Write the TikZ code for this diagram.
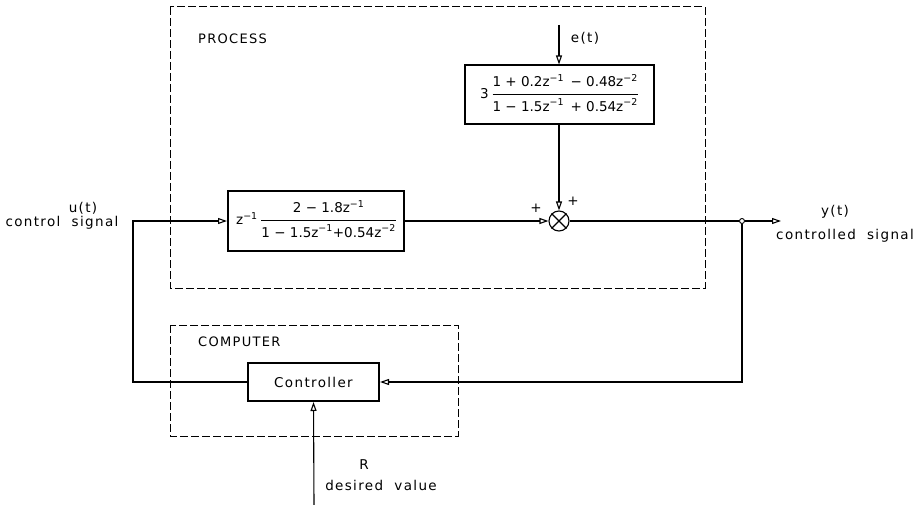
\documentclass[tikz,border=0pt]{standalone}
\usepackage{fontspec}
\setmainfont{DejaVu Sans}[LetterSpace=10]
\newfontfamily\boxfont{DejaVu Sans}[LetterSpace=0]
\usetikzlibrary{arrows.meta}
\newcommand\fr[2]{\setlength\arrayrulewidth{0.8pt}\begin{tabular}{@{}c@{}}#1\\[3pt]\hline\noalign{\vskip4pt}#2\end{tabular}}
\newcommand\zz[1]{z\textsuperscript{#1}}
\tikzset{
  blk/.style={draw, line width=2pt, inner sep=0pt},
  frm/.style={font=\boxfont\fontsize{13.5}{16}\selectfont},
  region/.style={draw, line width=1pt, dash pattern=on 8pt off 3pt},
  sig/.style={line width=1.1pt},
  arr/.style={sig, -{Triangle[open,length=9pt,width=6pt]}},
  lbl/.style={inner sep=0pt, font=\fontsize{13.5}{16}\selectfont},
  small/.style={inner sep=0pt, font=\fontsize{13}{15}\selectfont}
}
\begin{document}
\begin{tikzpicture}[x=1pt,y=-1pt]
\useasboundingbox (0,0) rectangle (915,505);
% regions
\draw[region] (170,7) rectangle (705,288);
\draw[region] (170,325) rectangle (458,436);
\node[small, anchor=west] (plabel) at (198,39) {PROCESS};
\node[small, anchor=west] (clabel) at (198,342) {COMPUTER};
% blocks
\node[blk, frm, minimum width=176pt, minimum height=60pt] (G1) at (316,221)
  {\zz{−1}\;\fr{2 − 1.8\zz{−1}}{1 − 1.5\zz{−1}+0.54\zz{−2}}};
\node[blk, frm, minimum width=189pt, minimum height=59pt] (G2) at (559,95)
  {3\;\fr{1 + 0.2\zz{−1} \,− 0.48\zz{−2}}{1 − 1.5\zz{−1} \,+ 0.54\zz{−2}}};
\node[blk, lbl, minimum width=131pt, minimum height=38pt] (ctrl) at (313.5,382) {Controller};
\node[circle, draw, line width=1.1pt, minimum size=20pt, inner sep=0pt] (sum) at (559,221) {};
\draw[line width=1.1pt] (sum.north west) -- (sum.south east) (sum.north east) -- (sum.south west);
\node[circle, draw, fill=white, line width=0.9pt, minimum size=5pt, inner sep=0pt] (dot) at (742,221) {};
% coordinates
\coordinate (etop) at (559,25);
\coordinate (yend) at (781,221);
\coordinate (uL) at (133,221);
\coordinate (Rbot) at (314,505);
% connectors
\draw[arr] (etop) -- (G2.north);
\draw[arr] (G2.south) -- (sum.north);
\draw[arr] (G1.east) -- (sum.west);
\draw[sig] (sum.east) -- (dot.west);
\draw[arr] (dot.east) -- (yend);
\draw[arr] (dot.south) |- (ctrl.east);
\draw[arr] (ctrl.west) -| (uL) -- (G1.west);
\draw[arr] (Rbot) -- (ctrl.south);
% labels
\node[lbl] (et) at (585,38) {e(t)};
\node[lbl] (pl) at (536,208) {+};
\node[lbl] (pu) at (573,201) {+};
\node[lbl] (ut) at (83,208) {u(t)};
\node[lbl] (us) at (62,223) {control\ \ signal};
\node[lbl] (yt) at (835,212) {y(t)};
\node[lbl] (ys) at (845,236) {controlled\ \ signal};
\node[lbl] (rr) at (364,465) {R};
\node[lbl] (rd) at (381,485) {desired\ \ value};
\end{tikzpicture}
\end{document}
